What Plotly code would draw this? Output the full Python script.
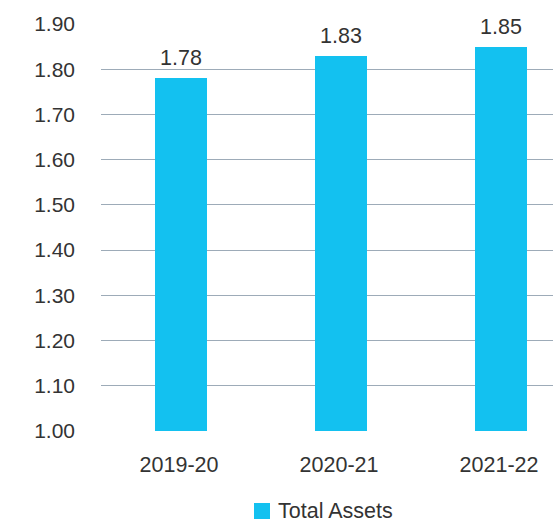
import plotly.graph_objects as go

# Total assets by financial year
years = ["2019-20", "2020-21", "2021-22"]
total_assets = [1.78, 1.83, 1.85]
y_ticks = [1.00, 1.10, 1.20, 1.30, 1.40, 1.50, 1.60, 1.70, 1.80, 1.90]
series_name = "Total Assets"

BAR_COLOR = "#13C1F0"
TEXT_COLOR = "#333333"
GRID_COLOR = "#9DABB8"
FONT = "Liberation Sans, Arial, sans-serif"
FS = 21.5

# plot area in pixels (used to place the legend in paper units)
L, T, W, H = 101, 24, 452, 407


def px_x(p):
    return (p - L) / W


def px_y(p):
    return (T + H - p) / H


fig = go.Figure()

fig.add_trace(go.Bar(
    x=years,
    y=total_assets,
    base=0,
    width=0.325,
    name=series_name,
    marker=dict(color=BAR_COLOR, line=dict(width=0)),
    showlegend=False,
    hoverinfo="x+y",
))

# value labels above the bars
for yr, v in zip(years, total_assets):
    fig.add_annotation(
        x=yr, y=v, text=f"{v:.2f}",
        showarrow=False, yanchor="bottom", yshift=6,
        font=dict(family=FONT, size=FS, color=TEXT_COLOR),
    )

# legend below the plot: colour swatch plus series name
fig.add_shape(
    type="rect", xref="paper", yref="paper",
    x0=px_x(254), x1=px_x(270),
    y0=px_y(503), y1=px_y(519),
    fillcolor=BAR_COLOR, line=dict(width=0),
)
fig.add_annotation(
    xref="paper", yref="paper",
    x=px_x(276), y=px_y(511),
    xanchor="left", yanchor="middle",
    text=series_name, showarrow=False,
    font=dict(family=FONT, size=FS, color=TEXT_COLOR),
)

fig.update_layout(
    width=553,
    height=522,
    margin=dict(l=L, r=553 - L - W, t=T, b=522 - T - H, pad=0),
    paper_bgcolor="white",
    plot_bgcolor="white",
    font=dict(family=FONT, size=FS, color=TEXT_COLOR),
    bargap=0,
    showlegend=False,
    xaxis=dict(
        type="category",
        range=[-0.5, 2.325],
        showgrid=False,
        showline=False,
        zeroline=False,
        ticks="",
        ticklabelstandoff=18,
        ticklabelshift=-2,
        tickfont=dict(family=FONT, size=FS, color=TEXT_COLOR),
    ),
    yaxis=dict(
        range=[1.0, 1.9],
        tickvals=y_ticks,
        ticktext=[f"{t:.2f}" for t in y_ticks],
        showgrid=True,
        gridcolor=GRID_COLOR,
        gridwidth=1,
        zeroline=False,
        showline=False,
        ticks="",
        ticklabelstandoff=25,
        tickfont=dict(family=FONT, size=21, color=TEXT_COLOR),
    ),
)

fig.write_html("out.html")
